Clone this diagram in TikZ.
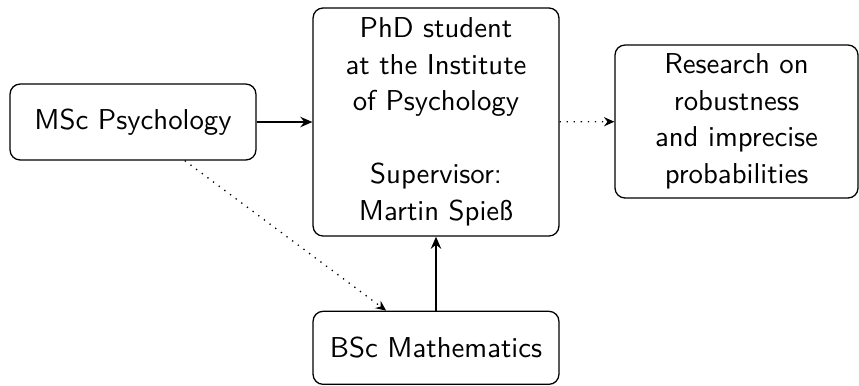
\documentclass[tikz,border=0pt]{standalone}
\usetikzlibrary{arrows.meta}
\begin{document}
\begin{tikzpicture}[x=0.3477pt,y=-0.3477pt,
  box/.style={draw,rounded corners=3.5pt,inner sep=0pt,align=center,
    font=\sffamily\fontsize{10}{12.7}\selectfont,line width=0.45pt},
  solidarrow/.style={-{Stealth[length=4.2pt,width=3.6pt,inset=1.4pt]},line width=0.8pt},
  dotarrow/.style={-{Stealth[length=3.6pt,width=3.2pt,inset=1.2pt]},dotted,line width=0.45pt}]
\useasboundingbox (0,0) rectangle (859,385);
\node[box,minimum width=85.5pt,minimum height=26.4pt] (msc) at (133,122) {MSc Psychology};
\node[box,minimum width=85.5pt,minimum height=79.3pt] (phd) at (436,122)
  {PhD student\\at the Institute\\of Psychology\\[12.7pt]Supervisor:\\Martin Spieß};
\node[box,minimum width=84.5pt,minimum height=53.2pt] (res) at (736.5,121.5)
  {Research on\\robustness\\and imprecise\\probabilities};
\node[box,minimum width=85.5pt,minimum height=25.4pt] (bsc) at (436,347.8) {BSc Mathematics};
\draw[solidarrow] (msc) -- (phd);
\draw[solidarrow] (bsc) -- (phd);
\draw[dotarrow] (phd) -- (res);
\draw[dotarrow] (msc) -- (bsc);
\end{tikzpicture}
\end{document}
